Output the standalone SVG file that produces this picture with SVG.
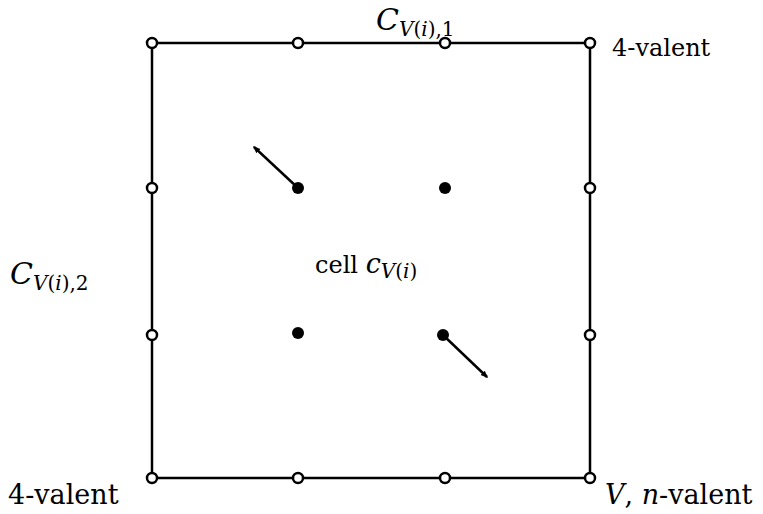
<svg xmlns="http://www.w3.org/2000/svg" width="763" height="514" viewBox="0 0 763 514">
<style>
.edge{stroke:#000;stroke-width:2.5;fill:none}
.vtx{fill:#fff;stroke:#000;stroke-width:2.5}
.pt{fill:#000}
.lbl{font-family:"DejaVu Serif","Liberation Serif",serif;font-size:24px;fill:#000}
.big{font-size:27px}
.it{font-style:italic}
.sub{font-size:20px}
</style>
<defs>
<marker id="ah" viewBox="0 0 10 10" refX="8" refY="5" markerWidth="3" markerHeight="3" orient="auto">
<path d="M0,1 L10,5 L0,9 z" fill="#000"/>
</marker>
</defs>
<g id="connectors">
<line class="edge" x1="152" y1="43" x2="590" y2="43"/>
<line class="edge" x1="152" y1="478" x2="590" y2="478"/>
<line class="edge" x1="152" y1="43" x2="152" y2="478"/>
<line class="edge" x1="590" y1="43" x2="590" y2="478"/>
<line class="edge" x1="298" y1="188" x2="254" y2="147" stroke-width="3" marker-end="url(#ah)"/>
<line class="edge" x1="443" y1="335" x2="487" y2="377" stroke-width="3" marker-end="url(#ah)"/>
</g>
<g id="boundary-vertices">
<circle class="vtx" cx="152" cy="43" r="5"/>
<circle class="vtx" cx="298" cy="43" r="5"/>
<circle class="vtx" cx="445" cy="43" r="5"/>
<circle class="vtx" cx="590" cy="43" r="5"/>
<circle class="vtx" cx="152" cy="188" r="5"/>
<circle class="vtx" cx="152" cy="335" r="5"/>
<circle class="vtx" cx="590" cy="188" r="5"/>
<circle class="vtx" cx="590" cy="335" r="5"/>
<circle class="vtx" cx="152" cy="478" r="5"/>
<circle class="vtx" cx="298" cy="478" r="5"/>
<circle class="vtx" cx="445" cy="478" r="5"/>
<circle class="vtx" cx="590" cy="478" r="5"/>
</g>
<g id="interior-points">
<circle class="pt" cx="298" cy="188" r="6"/>
<circle class="pt" cx="445" cy="188" r="6"/>
<circle class="pt" cx="298" cy="333" r="6"/>
<circle class="pt" cx="443" cy="335" r="6"/>
</g>
<g id="labels">
<text class="lbl" x="376" y="30"><tspan class="it" style="font-size:30px">C</tspan><tspan class="it sub" dy="6">V</tspan><tspan class="sub">(</tspan><tspan class="it sub">i</tspan><tspan class="sub">),1</tspan></text>
<text class="lbl" x="10" y="284"><tspan class="it" style="font-size:30px">C</tspan><tspan class="it sub" dy="6">V</tspan><tspan class="sub">(</tspan><tspan class="it sub">i</tspan><tspan class="sub">),2</tspan></text>
<text class="lbl" x="315" y="273">cell <tspan class="it" style="font-size:27px">c</tspan><tspan class="it sub" dy="5">V</tspan><tspan class="sub">(</tspan><tspan class="it sub">i</tspan><tspan class="sub">)</tspan></text>
<text class="lbl" x="612" y="56">4-valent</text>
<text class="lbl big" x="8" y="504">4-valent</text>
<text class="lbl big" x="605" y="504"><tspan class="it">V</tspan>, <tspan class="it">n</tspan>-valent</text>
</g>
</svg>
